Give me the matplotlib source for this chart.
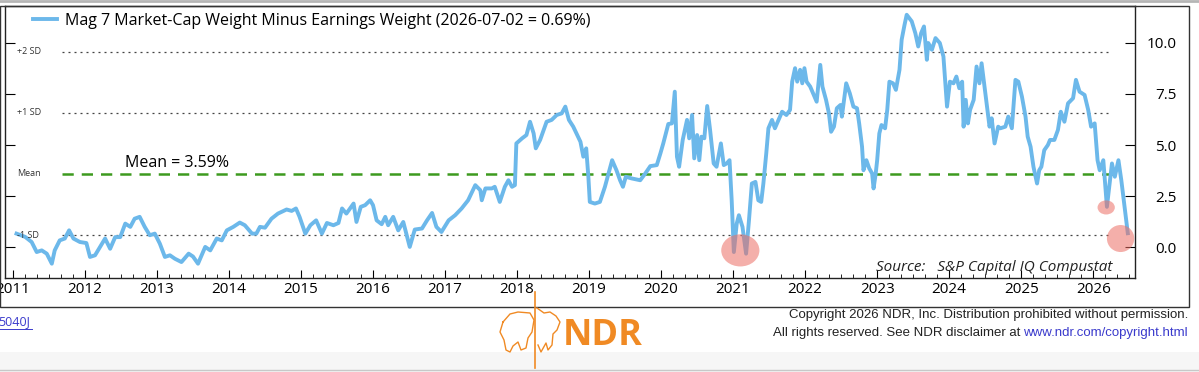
import matplotlib
matplotlib.use("Agg")
import matplotlib.pyplot as plt
from matplotlib.patches import Ellipse, Rectangle
from matplotlib.lines import Line2D
from matplotlib.ticker import MultipleLocator

plt.rcParams['font.family'] = ['Open Sans', 'DejaVu Sans']

# Mag 7 market-cap weight minus earnings weight (%), decimal years
years = [2011.05, 2011.17, 2011.26, 2011.33, 2011.40, 2011.47, 2011.54, 2011.58, 2011.65, 2011.72,
         2011.78, 2011.84, 2011.93, 2012.02, 2012.07, 2012.14, 2012.21, 2012.28, 2012.35, 2012.42,
         2012.49, 2012.56, 2012.63, 2012.69, 2012.76, 2012.83, 2012.90, 2012.97, 2013.04, 2013.11,
         2013.18, 2013.25, 2013.34, 2013.44, 2013.50, 2013.57, 2013.67, 2013.74, 2013.83, 2013.90,
         2013.97, 2014.06, 2014.15, 2014.22, 2014.32, 2014.38, 2014.43, 2014.50, 2014.59, 2014.68,
         2014.80, 2014.87, 2014.93, 2014.98, 2015.06, 2015.13, 2015.21, 2015.29, 2015.36, 2015.45,
         2015.52, 2015.57, 2015.63, 2015.73, 2015.77, 2015.83, 2015.89, 2015.96, 2016.00, 2016.05,
         2016.12, 2016.17, 2016.21, 2016.28, 2016.35, 2016.42, 2016.51, 2016.58, 2016.68, 2016.75,
         2016.82, 2016.88, 2016.95, 2017.05, 2017.14, 2017.23, 2017.32, 2017.42, 2017.49, 2017.51,
         2017.56, 2017.65, 2017.69, 2017.76, 2017.83, 2017.88, 2017.93, 2017.97, 2017.99, 2018.07,
         2018.13, 2018.18, 2018.23, 2018.26, 2018.32, 2018.37, 2018.41, 2018.48, 2018.55, 2018.62,
         2018.67, 2018.72, 2018.78, 2018.88, 2018.92, 2018.96, 2018.99, 2019.01, 2019.08, 2019.15,
         2019.22, 2019.32, 2019.38, 2019.43, 2019.47, 2019.51, 2019.59, 2019.71, 2019.78, 2019.85,
         2019.94, 2019.99, 2020.03, 2020.10, 2020.15, 2020.19, 2020.22, 2020.25, 2020.30, 2020.36,
         2020.39, 2020.43, 2020.46, 2020.50, 2020.53, 2020.56, 2020.60, 2020.64, 2020.68, 2020.73,
         2020.77, 2020.83, 2020.87, 2020.91, 2020.95, 2020.98, 2021.01, 2021.05, 2021.08, 2021.13,
         2021.18, 2021.22, 2021.26, 2021.31, 2021.35, 2021.39, 2021.42, 2021.46, 2021.49, 2021.54,
         2021.58, 2021.63, 2021.68, 2021.74, 2021.79, 2021.82, 2021.86, 2021.89, 2021.93, 2021.96,
         2021.99, 2022.02, 2022.07, 2022.12, 2022.16, 2022.21, 2022.24, 2022.29, 2022.33, 2022.36,
         2022.40, 2022.44, 2022.49, 2022.51, 2022.57, 2022.62, 2022.67, 2022.72, 2022.75, 2022.79,
         2022.81, 2022.85, 2022.89, 2022.93, 2022.95, 2022.98, 2023.00, 2023.03, 2023.06, 2023.11,
         2023.14, 2023.17, 2023.22, 2023.26, 2023.31, 2023.34, 2023.38, 2023.41, 2023.48, 2023.53,
         2023.57, 2023.61, 2023.65, 2023.69, 2023.71, 2023.76, 2023.81, 2023.87, 2023.92, 2023.97,
         2024.01, 2024.06, 2024.10, 2024.14, 2024.18, 2024.20, 2024.23, 2024.26, 2024.29, 2024.34,
         2024.38, 2024.42, 2024.45, 2024.49, 2024.52, 2024.56, 2024.59, 2024.63, 2024.68, 2024.71,
         2024.78, 2024.82, 2024.87, 2024.92, 2024.96, 2025.01, 2025.06, 2025.09, 2025.13, 2025.17,
         2025.22, 2025.25, 2025.28, 2025.32, 2025.37, 2025.40, 2025.46, 2025.51, 2025.55, 2025.60,
         2025.65, 2025.72, 2025.76, 2025.81, 2025.88, 2025.93, 2025.97, 2026.02, 2026.06, 2026.09,
         2026.14, 2026.19, 2026.26, 2026.30, 2026.35, 2026.39, 2026.43, 2026.48]
values = [0.67, 0.51, 0.26, -0.23, -0.15, -0.31, -0.80, -0.15, 0.34, 0.43,
          0.83, 0.43, 0.26, 0.21, -0.47, -0.39, 0.02, 0.43, -0.07, 0.50,
          0.50, 1.16, 1.00, 1.40, 1.49, 1.00, 0.59, 0.67, 0.18, -0.47,
          -0.39, -0.56, -0.72, -0.31, -0.45, -0.80, 0.02, -0.15, 0.43, 0.34,
          0.83, 1.00, 1.21, 1.08, 0.67, 0.67, 1.00, 0.96, 1.40, 1.65,
          1.85, 1.78, 1.90, 1.49, 0.67, 1.08, 1.32, 0.67, 1.19, 1.08,
          1.19, 1.90, 1.65, 2.14, 1.24, 1.98, 2.06, 2.30, 2.06, 1.32,
          1.13, 1.49, 1.08, 1.49, 0.83, 1.24, 0.02, 0.87, 0.92, 1.32,
          1.68, 1.00, 0.75, 1.32, 1.57, 1.90, 2.30, 3.04, 2.79, 2.30,
          2.88, 2.88, 2.96, 2.22, 2.96, 3.28, 2.96, 3.04, 5.08, 5.33,
          5.49, 6.14, 5.57, 4.84, 5.25, 5.74, 6.14, 6.23, 6.47, 6.55,
          6.88, 6.23, 5.90, 5.16, 4.43, 4.84, 3.45, 2.22, 2.14, 2.22,
          2.96, 4.26, 3.77, 3.28, 2.96, 3.45, 3.37, 3.28, 3.61, 3.97,
          4.02, 4.59, 5.08, 6.03, 6.06, 7.61, 4.43, 3.94, 5.25, 6.23,
          5.33, 6.47, 4.35, 5.49, 4.26, 5.41, 5.33, 6.91, 5.74, 4.10,
          3.94, 5.08, 4.02, 4.10, 4.26, 2.30, -0.23, 1.16, 1.57, 1.00,
          -0.31, 1.32, 3.12, 3.20, 2.30, 2.22, 3.12, 4.59, 5.82, 6.23,
          5.82, 6.23, 6.63, 6.47, 6.72, 8.10, 8.76, 8.10, 8.68, 8.02,
          8.76, 8.10, 7.86, 7.45, 7.12, 8.92, 7.86, 7.21, 6.55, 5.65,
          5.90, 6.80, 6.96, 6.39, 8.02, 7.53, 6.88, 6.80, 6.06, 4.92,
          3.77, 4.26, 3.86, 3.61, 2.88, 3.61, 4.26, 5.57, 5.98, 5.82,
          6.72, 8.10, 8.02, 7.70, 8.68, 10.15, 10.88, 11.37, 11.05, 10.47,
          9.82, 10.47, 10.80, 9.17, 9.99, 9.66, 10.23, 9.99, 9.33, 6.88,
          8.10, 8.02, 8.35, 7.78, 8.10, 5.90, 7.21, 6.06, 6.72, 7.21,
          8.84, 8.02, 9.00, 7.86, 7.04, 5.90, 6.31, 5.08, 5.90, 5.82,
          5.90, 6.39, 5.82, 8.19, 8.10, 7.37, 6.39, 5.41, 4.92, 3.94,
          3.12, 3.77, 3.94, 4.75, 5.00, 5.25, 5.25, 5.74, 6.63, 6.14,
          7.04, 7.29, 8.19, 7.61, 7.45, 6.72, 5.90, 6.06, 4.26, 3.77,
          4.26, 1.98, 4.10, 3.45, 4.26, 3.28, 2.14, 0.69]

mean_val = 3.59
sd_val = 2.99
sd_labels = ['+2 SD', '+1 SD', 'Mean', '-1 SD']
sd_mult = [2, 1, 0, -1]

# highlighted lows: centre year, centre value, width (yr), height (%)
hl_x = [2021.10, 2026.18, 2026.38]
hl_y = [-0.15, 1.95, 0.43]
hl_w = [0.53, 0.24, 0.38]
hl_h = [1.57, 0.69, 1.32]

W, H = 1199, 372
fig = plt.figure(figsize=(W / 100, H / 100), dpi=100)

def fx(px):
    return px / W

def fy(py):
    return 1 - py / H

# outer frame and page lines
fig.add_artist(Rectangle((fx(0), fy(307)), fx(1189), fy(6) - fy(307), transform=fig.transFigure,
                         fill=False, edgecolor='#333333', lw=1.0))
fig.add_artist(Line2D([0, 1], [fy(1), fy(1)], transform=fig.transFigure, color='#b5b5b5', lw=2))
fig.add_artist(Rectangle((0, 0), 1, fy(352), transform=fig.transFigure, color='#f6f6f6', lw=0, zorder=-5))
fig.add_artist(Line2D([0, 1], [fy(370), fy(370)], transform=fig.transFigure, color='#c8c8c8', lw=1))

ax = fig.add_axes([fx(5), fy(278), fx(1135) - fx(5), fy(6) - fy(278)])
ax.set_xlim(2010.89, 2026.58)
ax.set_ylim(-1.5, 11.8)

line, = ax.plot(years, values, color='#6cb8ea', lw=2.8, solid_joinstyle='round',
                label='Mag 7 Market-Cap Weight Minus Earnings Weight (2026-07-02 = 0.69%)', zorder=3)

for lab, m in zip(sd_labels, sd_mult):
    yv = mean_val + m * sd_val
    if m == 0:
        ax.plot([2011.68, 2026.28], [yv, yv], color='#3d9a1f', lw=1.8, dashes=(4.5, 3.2), zorder=2)
    else:
        ax.plot([2011.68, 2026.24], [yv, yv], color='#444444', lw=0.9, dashes=(1.6, 3.2), zorder=2)
    ax.text(2011.06, yv, lab, fontsize=6.5, color='#333333', va='center', ha='left')

ax.text(2012.55, mean_val + 0.12, 'Mean = %.2f%%' % mean_val, fontsize=11.5, va='bottom', ha='left')

for cx, cy, w, h in zip(hl_x, hl_y, hl_w, hl_h):
    ax.add_patch(Ellipse((cx, cy), w, h, facecolor='#ec6e64', alpha=0.55, edgecolor='none', zorder=4))

ax.text(2026.27, -1.0, 'Source:   S&P Capital IQ Compustat', fontsize=11, style='italic',
        ha='right', va='center', color='#222222')

# axes ticks
ax.xaxis.set_major_locator(MultipleLocator(1))
ax.xaxis.set_minor_locator(MultipleLocator(1 / 6))
ax.xaxis.set_major_formatter(plt.FuncFormatter(lambda v, p: '%d' % v))
ax.tick_params(axis='x', which='major', direction='in', length=6, width=0.8, labelsize=11, pad=3)
ax.tick_params(axis='x', which='minor', direction='in', length=3, width=0.6)
ax.set_yticks([0, 2.5, 5, 7.5, 10])
ax.yaxis.set_major_formatter(plt.FuncFormatter(lambda v, p: '%.1f' % v))
ax.tick_params(axis='y', direction='in', length=7, width=0.8, left=True, right=True,
               labelleft=False, labelright=True, labelsize=11, pad=30)
for t in ax.get_yticklabels():
    t.set_horizontalalignment('right')
for s in ax.spines.values():
    s.set_color('#222222')
    s.set_linewidth(1.0)

ax.legend(handles=[line], loc='center left', bbox_to_anchor=(fx(33), fy(21)),
          bbox_transform=fig.transFigure, frameon=False, fontsize=11.5, handlelength=1.5,
          handletextpad=0.5, borderpad=0, borderaxespad=0)

# footer
fig.text(fx(-2), fy(322), '5040J', fontsize=9, color='#3a3acc', va='center', ha='left')
fig.add_artist(Line2D([fx(0), fx(32)], [fy(329), fy(329)], transform=fig.transFigure, color='#3a3acc', lw=0.7))
fig.add_artist(Line2D([fx(535), fx(535)], [fy(292), fy(368)], transform=fig.transFigure, color='#f08a24', lw=1.2))
bear_x = [503, 510, 518, 530, 534, 532, 528, 526, 521, 518, 513, 510, 506, 504, 500, 503]
bear_y = [322, 314, 312, 313, 320, 332, 338, 348, 350, 342, 346, 352, 350, 340, 332, 322]
bull_x = [537, 544, 550, 556, 560, 557, 553, 552, 548, 546, 541, 538]
bull_y = [308, 313, 312, 316, 322, 330, 334, 345, 350, 343, 352, 345]
fig.add_artist(Line2D([fx(v) for v in bear_x], [fy(v) for v in bear_y], transform=fig.transFigure,
                      color='#f08a24', lw=1.0))
fig.add_artist(Line2D([fx(v) for v in bull_x], [fy(v) for v in bull_y], transform=fig.transFigure,
                      color='#f08a24', lw=1.0))
fig.text(fx(563), fy(336), 'NDR', fontsize=26, fontweight='bold', color='#f08a24', va='center', ha='left')

foot_font = ['Liberation Sans', 'DejaVu Sans']
fig.text(fx(1188), fy(315), 'Copyright 2026 NDR, Inc. Distribution prohibited without permission.',
         fontsize=9.5, ha='right', va='center', color='#222222', family=foot_font)
url = fig.text(fx(1188), fy(333), 'www.ndr.com/copyright.html', fontsize=9.5, ha='right', va='center',
               color='#3a3acc', family=foot_font)
fig.canvas.draw()
bb = url.get_window_extent()
fig.text(bb.x0 / W - fx(3), fy(333), 'All rights reserved. See NDR disclaimer at', fontsize=9.5, ha='right',
         va='center', color='#222222', family=foot_font)

fig.savefig('out.png', dpi=100)
